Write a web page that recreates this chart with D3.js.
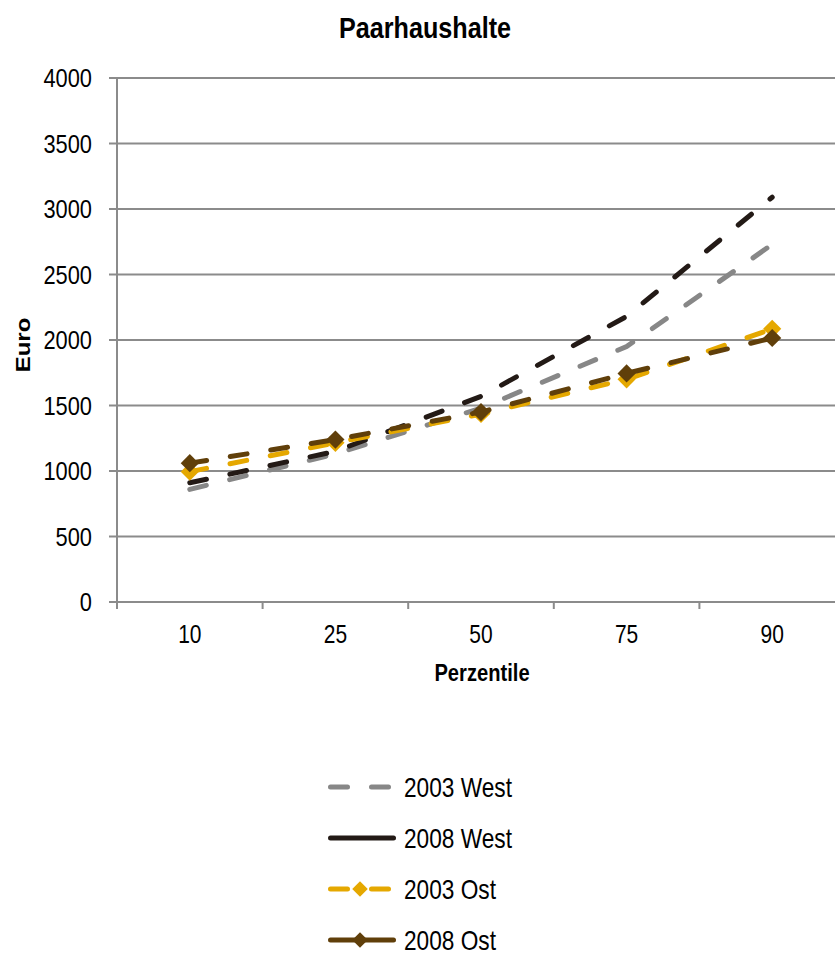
<!DOCTYPE html>
<html><head><meta charset="utf-8">
<script src="https://cdn.jsdelivr.net/npm/d3@7"></script>
<style>body{margin:0;background:#fff}svg{display:block}text{font-family:"Liberation Sans",Arial,sans-serif;fill:#000}</style>
</head><body>
<script>
const categories = ["10","25","50","75","90"];
const west2003 = [860, 1130, 1480, 1950, 2730];
const west2008 = [910, 1150, 1570, 2180, 3090];
const ost2003 = [995, 1215, 1435, 1700, 2085];
const ost2008 = [1060, 1240, 1450, 1745, 2015];
const yTicks = [0,500,1000,1500,2000,2500,3000,3500,4000];
const seriesNames = ["2003 West","2008 West","2003 Ost","2008 Ost"];

const W=835,H=954, SX=0.84;
const svg=d3.select("body").append("svg").attr("width",W).attr("height",H);
const x=d3.scaleBand().domain(categories).range([117,845]);
const y=d3.scaleLinear().domain([0,4000]).range([602,78]);
const gridCol="#8b8b8b";

function sq(sel,tx,ty,rot){sel.attr("transform",`translate(${tx},${ty}) scale(${SX},1)`+(rot?` rotate(${rot})`:""));return sel;}

// gridlines
svg.append("g").selectAll("line").data(yTicks).join("line")
 .attr("x1",109).attr("x2",W).attr("y1",d=>y(d)).attr("y2",d=>y(d))
 .attr("stroke",gridCol).attr("stroke-width",2);
// y axis line
svg.append("line").attr("x1",117).attr("x2",117).attr("y1",y(4000)).attr("y2",609).attr("stroke",gridCol).attr("stroke-width",2);
// x tick marks at band boundaries
const bounds=categories.map(c=>x(c)).concat([x(categories[4])+x.bandwidth()]);
svg.append("g").selectAll("line").data(bounds).join("line")
 .attr("x1",d=>d).attr("x2",d=>d).attr("y1",602).attr("y2",609).attr("stroke",gridCol).attr("stroke-width",2);
// y tick labels
svg.append("g").selectAll("text").data(yTicks).join("text")
 .each(function(d){sq(d3.select(this),92,y(d)+9);})
 .attr("text-anchor","end").attr("font-size",26).text(d=>d);
// x labels
svg.append("g").selectAll("text").data(categories).join("text")
 .each(function(d){sq(d3.select(this),x(d)+x.bandwidth()/2,643);})
 .attr("text-anchor","middle").attr("font-size",25).text(d=>d);
// axis titles
sq(svg.append("text"),482,681).attr("text-anchor","middle").attr("font-size",24).attr("font-weight","bold").text("Perzentile");
sq(svg.append("text"),30,345,-90).attr("text-anchor","middle").attr("font-size",24).attr("font-weight","bold").text("Euro");
sq(svg.append("text"),425,38).attr("text-anchor","middle").attr("font-size",30).attr("font-weight","bold").text("Paarhaushalte");

const series=[
 {name:seriesNames[0],vals:west2003,color:"#878787",marker:false,legendDash:true},
 {name:seriesNames[1],vals:west2008,color:"#231a16",marker:false,legendDash:false},
 {name:seriesNames[2],vals:ost2003,color:"#e5a800",marker:true,legendDash:true},
 {name:seriesNames[3],vals:ost2008,color:"#603f0a",marker:true,legendDash:false}
];
const cx=d=>x(d)+x.bandwidth()/2;
const line=d3.line().x((v,i)=>cx(categories[i])).y(v=>y(v));
const diamond=d3.symbol().type(d3.symbolSquare).size(165);
series.forEach(s=>{
  svg.append("path").attr("d",line(s.vals)).attr("fill","none").attr("stroke",s.color)
   .attr("stroke-width",5).attr("stroke-linecap","round").attr("stroke-dasharray","17,24");
  if(s.marker){
    svg.append("g").selectAll("path").data(s.vals).join("path")
     .attr("d",diamond).attr("fill",s.color)
     .attr("transform",(v,i)=>`translate(${cx(categories[i])},${y(v)}) rotate(45)`);
  }
});
// legend
const ly=d3.scalePoint().domain(seriesNames).range([787,940]);
series.forEach(s=>{
  const yy=ly(s.name);
  svg.append("line").attr("x1",330.5).attr("x2",393.5).attr("y1",yy).attr("y2",yy)
   .attr("stroke",s.color).attr("stroke-width",5).attr("stroke-linecap","round")
   .attr("stroke-dasharray",s.legendDash?"17,24":null);
  if(s.marker){
    svg.append("path").attr("d",d3.symbol().type(d3.symbolSquare).size(120)()).attr("fill",s.color)
     .attr("transform",`translate(360,${yy}) rotate(45)`);
  }
  sq(svg.append("text"),404,yy+10).attr("font-size",27).text(s.name);
});
</script>
</body></html>
